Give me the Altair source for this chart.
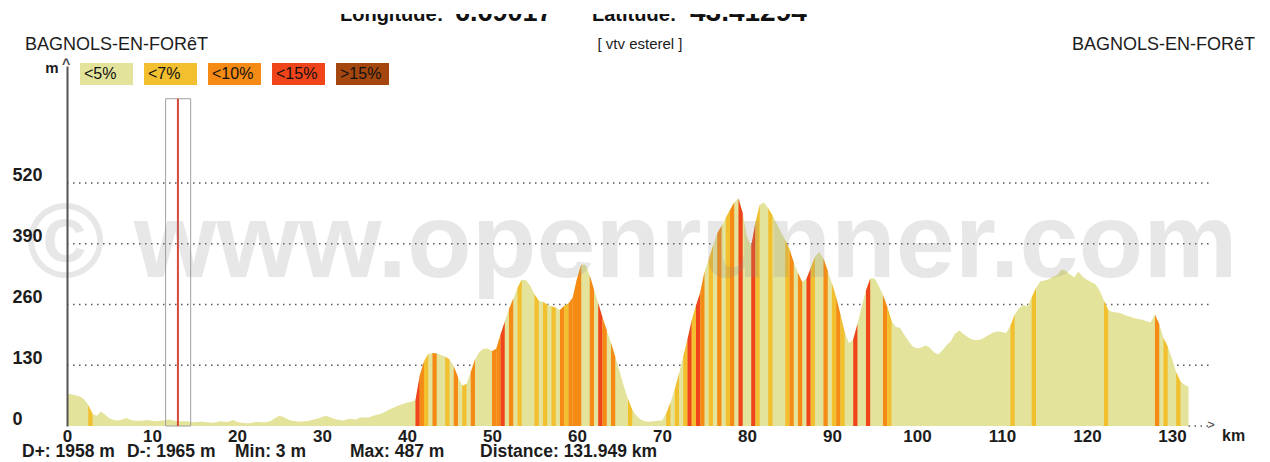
import altair as alt
import pandas as pd

# ---------------- data ----------------
DISTANCE_KM = 131.949
KM_STEP = 0.5  # elevation sampled every 0.5 km, last sample at the finish
ELEV_M = [
    70, 68, 66, 63, 58, 45, 26, 22, 31, 24, 16, 13, 12, 14, 17, 13, 11, 11, 12, 13,
    11, 10, 11, 12, 14, 12, 10, 10, 10, 9, 8, 9, 9, 8, 7, 8, 10, 9, 9, 13,
    9, 7, 6, 6, 8, 9, 8, 8, 11, 17, 22, 19, 14, 11, 10, 9, 10, 11, 14, 16,
    19, 22, 18, 15, 13, 12, 15, 15, 14, 18, 18, 18, 22, 24, 27, 31, 36, 40, 44, 47,
    50, 52, 55, 108, 138, 154, 156, 155, 152, 148, 142, 128, 105, 86, 90, 115, 142, 158, 165, 166,
    160, 165, 195, 223, 250, 272, 295, 313, 312, 300, 282, 268, 265, 260, 256, 253, 248, 257, 262, 275,
    315, 345, 345, 322, 292, 263, 232, 205, 178, 148, 118, 86, 58, 35, 22, 14, 10, 9, 10, 11,
    12, 26, 50, 78, 112, 148, 185, 226, 258, 285, 330, 356, 385, 412, 428, 445, 462, 478, 487, 455,
    405, 385, 435, 473, 478, 466, 450, 433, 415, 398, 378, 350, 327, 308, 315, 338, 362, 372, 358, 332,
    305, 275, 238, 200, 177, 185, 218, 255, 290, 315, 316, 300, 280, 255, 225, 212, 210, 195, 182, 170,
    166, 168, 172, 168, 158, 153, 162, 173, 182, 198, 204, 196, 190, 185, 184, 185, 190, 195, 200, 202,
    201, 199, 215, 238, 252, 259, 256, 275, 295, 309, 311, 314, 319, 323, 335, 332, 324, 318, 330, 319,
    313, 308, 303, 290, 268, 248, 244, 243, 241, 237, 234, 231, 229, 227, 224, 222, 238, 218, 188, 170,
    145, 115, 95, 88, 84,
]

GRADES = ["<5%", "<7%", "<10%", "<15%", ">15%"]
GRADE_COLORS = ["#E4E39B", "#F2BF2F", "#F58A15", "#F0441A", "#A4470F"]

# steeper sections: start km of a 0.5 km stretch and its gradient class
STRIPE_START_KM = [
    2.5, 41.0, 41.5, 42.0, 43.0, 44.5, 45.5, 46.5, 47.5, 50.0, 50.5, 51.0, 52.0, 53.0,
    55.0, 56.0, 57.0, 58.0, 58.5, 59.0, 59.5, 60.0, 61.5, 62.5, 63.0, 64.0, 66.0,
    70.5, 71.5, 72.5, 73.0, 73.5, 74.0, 74.5, 75.5, 76.5, 77.5, 78.0, 79.0, 80.5, 81.0,
    82.5, 84.5, 85.0, 86.0, 87.0, 87.5, 89.0, 90.0, 90.5, 91.0, 92.5, 94.0, 96.0, 96.5,
    111.0, 113.5, 122.0, 128.0, 129.0, 130.5,
]
STRIPE_GRADE = [
    "<7%", "<15%", "<10%", "<7%", "<10%", "<7%", "<10%", "<7%", "<10%", "<10%", "<10%", "<15%", "<10%", "<7%",
    "<7%", "<7%", "<7%", "<10%", "<7%", "<10%", "<10%", "<10%", "<10%", "<15%", "<10%", "<10%", "<7%",
    "<7%", "<7%", "<7%", "<15%", "<7%", "<15%", "<10%", "<7%", "<10%", "<7%", "<10%", "<15%", "<15%", "<7%",
    "<7%", "<7%", "<10%", "<10%", "<15%", "<7%", "<10%", "<7%", "<10%", "<7%", "<15%", "<15%", "<10%", "<7%",
    "<7%", "<7%", "<7%", "<10%", "<7%", "<7%",
]

Y_TICKS = [0, 130, 260, 390, 520]
X_TICKS = [0, 10, 20, 30, 40, 50, 60, 70, 80, 90, 100, 110, 120, 130]

CURSOR_KM = 13.05
CURSOR_BOX_KM = [11.6, 14.55]
CURSOR_TOP_M = 700

START_NAME = "BAGNOLS-EN-FORêT"
END_NAME = "BAGNOLS-EN-FORêT"
ROUTE_NAME = "[ vtv esterel ]"
HEADER = [("Longitude:", 20), ("6.69017", 27), ("Latitude:", 20), ("43.41294", 28)]
STATS = ["D+: 1958 m", "D-: 1965 m", "Min: 3 m", "Max: 487 m", "Distance: 131.949 km"]
WATERMARK = "© www.openrunner.com"

# ---------------- tables ----------------
km = [i * KM_STEP for i in range(len(ELEV_M) - 1)] + [DISTANCE_KM]
profile = pd.DataFrame({"km": km, "elev": ELEV_M})

rows = []
for sid, (k0, g) in enumerate(zip(STRIPE_START_KM, STRIPE_GRADE)):
    i = int(round(k0 / KM_STEP))
    rows.append({"km": km[i], "elev": ELEV_M[i], "sid": sid, "grade": g})
    rows.append({"km": km[i + 1], "elev": ELEV_M[i + 1], "sid": sid, "grade": g})
stripes = pd.DataFrame(rows)

grid_df = pd.DataFrame({"elev": Y_TICKS[1:]})
cursor_df = pd.DataFrame({"km": [CURSOR_KM], "k0": [CURSOR_BOX_KM[0]], "k1": [CURSOR_BOX_KM[1]],
                          "top": [CURSOR_TOP_M], "bottom": [0]})
tail_df = pd.DataFrame({"km": [DISTANCE_KM], "km2": [134.6], "elev": [0]})

# ---------------- layout ----------------
W, H = 1150, 360
X_MAX, Y_MAX = 135.3, 770
FONT = "Liberation Sans"
INK = "#1c1c1c"

x_axis = alt.Axis(values=X_TICKS, domain=False, ticks=False, grid=False, labelFlush=False,
                  labelFontSize=17, labelFontWeight="bold", labelFont=FONT, labelColor=INK,
                  labelPadding=2, title=None, labelOverlap=False)
y_axis = alt.Axis(values=Y_TICKS, domain=True, domainColor="#555", domainWidth=2, ticks=False,
                  grid=False, labelAlign="left", labelBaseline="middle", labelPadding=55,
                  labelOffset=-7, labelFontSize=18, labelFontWeight="bold", labelFont=FONT,
                  labelColor=INK, title=None, zindex=1, labelFlush=False, labelOverlap=False)
xs = alt.Scale(domain=[0, X_MAX], nice=False, zero=False)
ys = alt.Scale(domain=[0, Y_MAX], nice=False)

X = alt.X("km:Q", scale=xs, axis=x_axis)
Y = alt.Y("elev:Q", scale=ys, axis=y_axis, stack=None)

one = pd.DataFrame({"a": [0]})


def label(text, x, y, size, weight="normal", align="left", baseline="middle", color=INK,
          font=FONT, opacity=1.0):
    return alt.Chart(one).mark_text(
        text=text, align=align, baseline=baseline, fontSize=size, fontWeight=weight,
        font=font, color=color, opacity=opacity
    ).encode(x=alt.value(x), y=alt.value(y))


grid = alt.Chart(grid_df).mark_rule(color="#5a5a5a", strokeWidth=1.5, strokeDash=[1.5, 4.5]).encode(
    y=Y, x=alt.value(0), x2=alt.value(W - 4))
tail = alt.Chart(tail_df).mark_rule(color="#5a5a5a", strokeWidth=1.5, strokeDash=[1.5, 4.5]).encode(
    x=X, x2="km2:Q", y=Y)

base = alt.Chart(profile).mark_area(color=GRADE_COLORS[0], interpolate="linear").encode(x=X, y=Y)
stripe_layer = alt.Chart(stripes).mark_area(interpolate="linear").encode(
    x=X, y=Y, detail="sid:N",
    color=alt.Color("grade:N", scale=alt.Scale(domain=GRADES, range=GRADE_COLORS), legend=None))

box = alt.Chart(cursor_df).mark_rect(fillOpacity=0, stroke="#a0a0a0", strokeWidth=1).encode(
    x=alt.X("k0:Q", scale=xs, axis=x_axis), x2="k1:Q",
    y=alt.Y("top:Q", scale=ys, axis=y_axis), y2="bottom:Q")
cursor = alt.Chart(cursor_df).mark_rule(color="#D8473C", strokeWidth=2).encode(
    x=X, y=alt.Y("top:Q", scale=ys, axis=y_axis), y2="bottom:Q")

watermark = label(WATERMARK, 565, 179, 106, weight="bold", align="center", color="#8c8c8c",
                  opacity=0.2)

layers = [grid, base, stripe_layer, tail, box, cursor, watermark]

# header (cut at the top like the screenshot)
hx = [273, 388, 525, 623]
for (t, s), x in zip(HEADER, hx):
    layers.append(label(t, x, -45, s, weight="bold", baseline="alphabetic", color="#111"))
layers.append(alt.Chart(one).mark_rect(color="white").encode(
    x=alt.value(-59), x2=alt.value(W + 40), y=alt.value(-58), y2=alt.value(-52)))

layers.append(label(START_NAME, -42, -21, 18))
layers.append(label(END_NAME, 1188, -21, 18, align="right"))
layers.append(label(ROUTE_NAME, 573, -22, 15, align="center"))

# gradient key
for i, (g, c) in enumerate(zip(GRADES, GRADE_COLORS)):
    x0 = 13 + 64 * i
    layers.append(alt.Chart(one).mark_rect(color=c).encode(
        x=alt.value(x0), x2=alt.value(x0 + 53), y=alt.value(-3), y2=alt.value(19)))
    layers.append(label(g, x0 + 4, 8, 16, color="#111"))

layers.append(label("m", -15, 2, 15, weight="bold", align="center"))
layers.append(label("^", -1, -1, 14, weight="bold", align="center", color="#444"))
layers.append(label(">", 1144, 359, 13, align="center", color="#444"))
layers.append(label("km", 1155, 370, 16, weight="bold"))

sx = [-45, 60, 168, 283, 413]
for t, x in zip(STATS, sx):
    layers.append(label(t, x, 386, 17.5, weight="bold"))

chart = alt.layer(*layers).properties(
    width=W, height=H,
    padding={"left": 59, "top": 58, "right": 40, "bottom": 32},
    autosize=alt.AutoSizeParams(type="none"),
    background="white",
).configure_view(stroke=None)

chart.save("out.html", embed_options={"renderer": "svg", "actions": False})
